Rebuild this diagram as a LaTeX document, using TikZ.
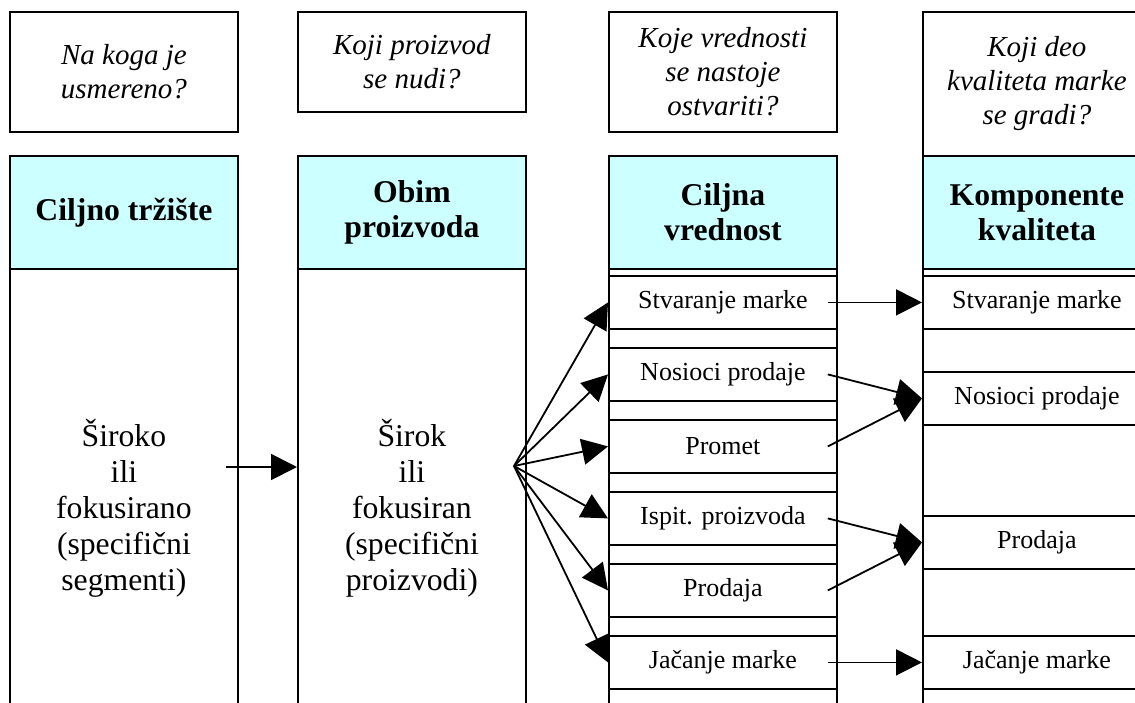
\documentclass[tikz,border=0pt]{standalone}
\usepackage{fontspec}
\setmainfont{Liberation Serif}
\usetikzlibrary{arrows.meta}
\definecolor{headcyan}{RGB}{204,255,255}
\tikzset{
  box/.style={draw, line width=0.9pt, anchor=north west, minimum width=114pt, inner sep=0pt, align=center},
  quest/.style={box, font=\fontsize{14.5}{17}\selectfont\itshape},
  head/.style={box, fill=headcyan, minimum height=56.5pt, font=\fontsize{15.85}{17.5}\selectfont\bfseries},
  body/.style={box, minimum height=239pt, font=\fontsize{15.85}{18}\selectfont},
  cell/.style={box, minimum height=26.5pt, font=\fontsize{13}{15}\selectfont},
  conn/.style={line width=0.9pt, -{Triangle[length=13pt, width=13pt]}},
}
\begin{document}
\begin{tikzpicture}[x=0.5pt, y=-0.5pt]
  \useasboundingbox (0,0) rectangle (1135,702);
  % pitanja
  \node[quest, minimum height=60pt] (q1) at (9,11) {Na koga je\\usmereno?};
  \node[quest, minimum height=50pt] (q2) at (297,11) {Koji proizvod\\se nudi?};
  \node[quest, minimum height=60pt] (q3) at (608,11) {Koje vrednosti\\se nastoje\\ostvariti?};
  \node[quest, minimum height=72pt] (q4) at (922,11) {Koji deo\\kvaliteta marke\\se gradi?};
  % zaglavlja
  \node[head] (h1) at (9,155) {Ciljno tržište};
  \node[head] (h2) at (297,155) {Obim\\proizvoda};
  \node[head] (h3) at (608,155) {Ciljna\\vrednost};
  \node[head] (h4) at (922,155) {Komponente\\kvaliteta};
  % kolone
  \node[body] (b1) at (9,268) {Široko\\ili\\fokusirano\\(specifični\\segmenti)};
  \node[body] (b2) at (297,268) {Širok\\ili\\fokusiran\\(specifični\\proizvodi)};
  \node[body] (b3) at (608,268) {};
  \node[body] (b4) at (922,268) {};
  % ciljne vrednosti
  \node[cell] (v1) at (608,275) {Stvaranje marke};
  \node[cell] (v2) at (608,347) {Nosioci prodaje};
  \node[cell] (v3) at (608,419) {Promet};
  \node[cell] (v4) at (608,491) {Ispit. proizvoda};
  \node[cell] (v5) at (608,563) {Prodaja};
  \node[cell] (v6) at (608,635) {Jačanje marke};
  % komponente kvaliteta
  \node[cell] (k1) at (922,275) {Stvaranje marke};
  \node[cell] (k2) at (922,371) {Nosioci prodaje};
  \node[cell] (k3) at (922,515) {Prodaja};
  \node[cell] (k4) at (922,635) {Jačanje marke};
  % strelice
  \coordinate (from1) at (226,467);
  \coordinate (fan) at (514,466);
  \draw[conn] (from1) -- (from1 -| b2.west);
  \draw[conn] (fan) -- (v1.west);
  \draw[conn] (fan) -- (v2.west);
  \draw[conn] (fan) -- (v3.west);
  \draw[conn] (fan) -- (v4.west);
  \draw[conn] (fan) -- (v5.west);
  \draw[conn] (fan) -- (v6.west);
  \draw[conn] ([xshift=-5pt]v1.east) -- (k1.west);
  \draw[conn] ([xshift=-5pt]v2.east) -- (k2.west);
  \draw[conn] ([xshift=-5pt]v3.east) -- (k2.west);
  \draw[conn] ([xshift=-5pt]v4.east) -- (k3.west);
  \draw[conn] ([xshift=-5pt]v5.east) -- (k3.west);
  \draw[conn] ([xshift=-5pt]v6.east) -- (k4.west);
\end{tikzpicture}
\end{document}
